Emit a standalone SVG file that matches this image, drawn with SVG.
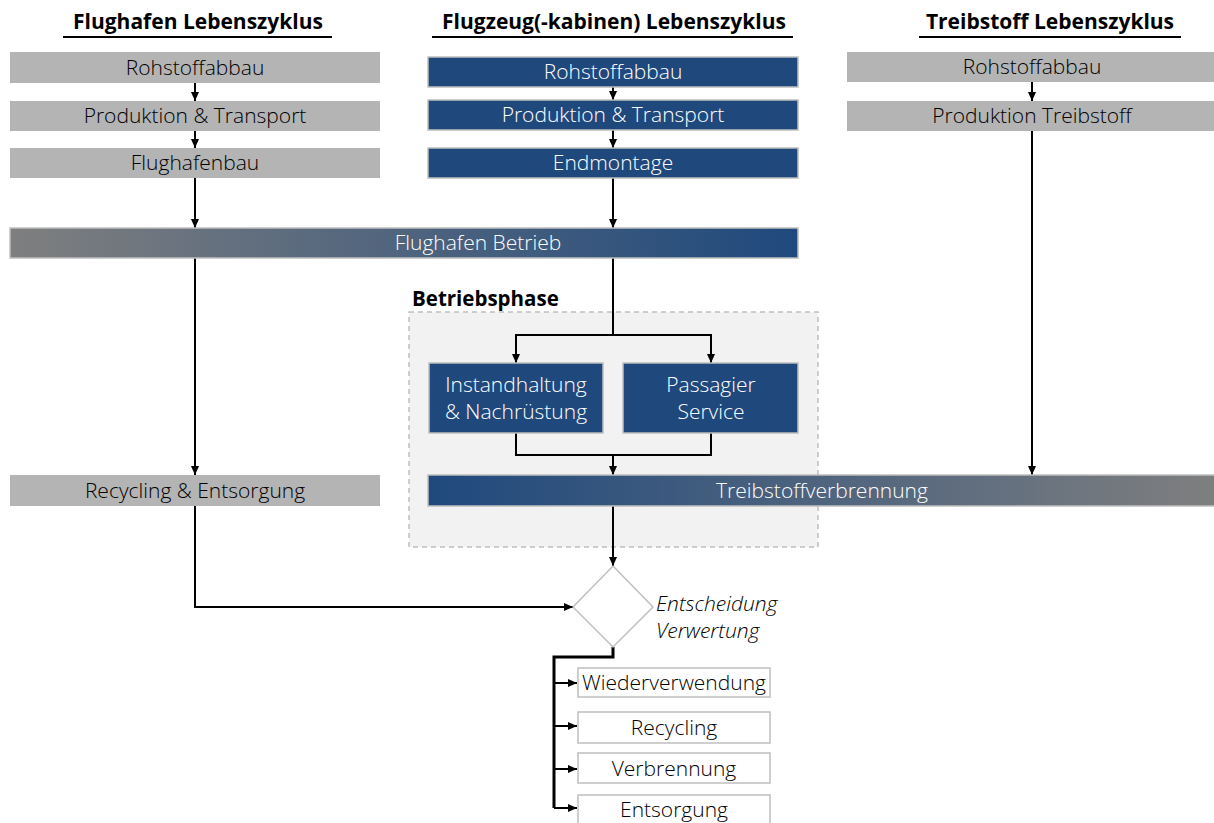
<svg xmlns="http://www.w3.org/2000/svg" width="1214" height="823" viewBox="0 0 1214 823">
<style>
text{font-family:"Open Sans","Noto Sans","Liberation Sans",sans-serif;}
.hdr{font-size:21px;font-weight:bold;fill:#000;text-anchor:middle;}
.ul{stroke:#000;stroke-width:2;}
.gray{fill:#b4b4b4;}
.blue{fill:#1f497d;stroke:#bfbfbf;stroke-width:1.5;}
.gt{font-size:21px;font-weight:300;fill:#000;text-anchor:middle;}
.wt{font-size:21px;font-weight:300;fill:#fff;text-anchor:middle;}
.con{fill:none;stroke:#000;stroke-width:2;}
.con2{fill:none;stroke:#000;stroke-width:3;}
.outb{fill:#fff;stroke:#bfbfbf;stroke-width:1.5;}
.bt{font-size:21px;font-weight:300;fill:#000;text-anchor:middle;}
.it{font-size:21px;font-style:italic;font-weight:300;fill:#000;}
</style>
<defs>
<marker id="ah" markerWidth="10" markerHeight="10" refX="9" refY="5" orient="auto" markerUnits="userSpaceOnUse">
<path d="M0,1 L9,5 L0,9 Z" fill="#000"/>
</marker>
<linearGradient id="g1" x1="0" y1="0" x2="1" y2="0">
<stop offset="0" stop-color="#7f7f7f"/>
<stop offset="1" stop-color="#1f497d"/>
</linearGradient>
<linearGradient id="g2" x1="0" y1="0" x2="1" y2="0">
<stop offset="0" stop-color="#1f497d"/>
<stop offset="1" stop-color="#7f7f7f"/>
</linearGradient>
</defs>

<g id="headers">
<text class="hdr" x="198" y="29">Flughafen Lebenszyklus</text>
<line class="ul" x1="63" y1="37" x2="332" y2="37"/>
<text class="hdr" x="614" y="29">Flugzeug(-kabinen) Lebenszyklus</text>
<line class="ul" x1="432" y1="37" x2="793" y2="37"/>
<text class="hdr" x="1050" y="29">Treibstoff Lebenszyklus</text>
<line class="ul" x1="919" y1="37" x2="1181" y2="37"/>
</g>

<g id="betriebsphase">
<rect x="409" y="312" width="409" height="235" fill="#f2f2f2" stroke="#bfbfbf" stroke-width="1.5" stroke-dasharray="5,4"/>
<text x="412" y="306" font-size="20.5" font-weight="bold" fill="#000">Betriebsphase</text>
</g>

<g id="connectors">
<line class="con" x1="195" y1="83" x2="195" y2="101" marker-end="url(#ah)"/>
<line class="con" x1="195" y1="131" x2="195" y2="148" marker-end="url(#ah)"/>
<line class="con" x1="195" y1="178" x2="195" y2="228" marker-end="url(#ah)"/>
<line class="con" x1="195" y1="258" x2="195" y2="475" marker-end="url(#ah)"/>
<polyline class="con" points="195,506 195,607 573,607" marker-end="url(#ah)"/>
<line class="con" x1="613" y1="87" x2="613" y2="100" marker-end="url(#ah)"/>
<line class="con" x1="613" y1="130" x2="613" y2="148" marker-end="url(#ah)"/>
<line class="con" x1="613" y1="178" x2="613" y2="228" marker-end="url(#ah)"/>
<line class="con" x1="613" y1="258" x2="613" y2="335"/>
<polyline class="con" points="516,363 516,335 711,335 711,363" fill="none"/>
<line class="con" x1="516" y1="340" x2="516" y2="363" marker-end="url(#ah)"/>
<line class="con" x1="711" y1="340" x2="711" y2="363" marker-end="url(#ah)"/>
<polyline class="con" points="516,433 516,455 711,455 711,433"/>
<line class="con" x1="613" y1="455" x2="613" y2="475" marker-end="url(#ah)"/>
<line class="con" x1="613" y1="506" x2="613" y2="566" marker-end="url(#ah)"/>
<line class="con" x1="1032" y1="82" x2="1032" y2="101" marker-end="url(#ah)"/>
<line class="con" x1="1032" y1="131" x2="1032" y2="475" marker-end="url(#ah)"/>
<polyline class="con2" points="613,647 613,657 554,657 554,808"/>
<line class="con" x1="554" y1="683" x2="577" y2="683" marker-end="url(#ah)"/>
<line class="con" x1="554" y1="726" x2="577" y2="726" marker-end="url(#ah)"/>
<line class="con" x1="554" y1="769" x2="577" y2="769" marker-end="url(#ah)"/>
<line class="con" x1="554" y1="808" x2="577" y2="808" marker-end="url(#ah)"/>
</g>

<g id="n_fh_roh"><rect class="gray" x="10" y="52" width="370" height="31"/><text class="gt" x="195" y="75">Rohstoffabbau</text></g>
<g id="n_fh_prod"><rect class="gray" x="10" y="101" width="370" height="30"/><text class="gt" x="195" y="123">Produktion &amp; Transport</text></g>
<g id="n_fh_bau"><rect class="gray" x="10" y="148" width="370" height="30"/><text class="gt" x="195" y="170">Flughafenbau</text></g>

<g id="n_fz_roh"><rect class="blue" x="428" y="57" width="370" height="30"/><text class="wt" x="613" y="79">Rohstoffabbau</text></g>
<g id="n_fz_prod"><rect class="blue" x="428" y="100" width="370" height="30"/><text class="wt" x="613" y="122">Produktion &amp; Transport</text></g>
<g id="n_fz_end"><rect class="blue" x="428" y="148" width="370" height="30"/><text class="wt" x="613" y="170">Endmontage</text></g>

<g id="n_tr_roh"><rect class="gray" x="847" y="52" width="370" height="30"/><text class="gt" x="1032" y="74">Rohstoffabbau</text></g>
<g id="n_tr_prod"><rect class="gray" x="847" y="101" width="370" height="30"/><text class="gt" x="1032" y="123">Produktion Treibstoff</text></g>

<g id="n_betrieb"><rect x="10" y="228" width="788" height="30" fill="url(#g1)" stroke="#bfbfbf" stroke-width="1.5"/><text class="wt" x="478" y="250">Flughafen Betrieb</text></g>

<g id="n_instand"><rect class="blue" x="429" y="363" width="174" height="70"/><text class="wt" x="516" y="392" font-size="22">Instandhaltung</text><text class="wt" x="516" y="419" font-size="22">&amp; Nachrüstung</text></g>
<g id="n_pass"><rect class="blue" x="623" y="363" width="175" height="70"/><text class="wt" x="711" y="392" font-size="22">Passagier</text><text class="wt" x="711" y="419" font-size="22">Service</text></g>

<g id="n_recyc"><rect class="gray" x="10" y="475" width="370" height="31"/><text class="gt" x="195" y="498">Recycling &amp; Entsorgung</text></g>
<g id="n_verbr"><rect x="428" y="475" width="790" height="31" fill="url(#g2)" stroke="#bfbfbf" stroke-width="1.5"/><text class="wt" x="822" y="498">Treibstoffverbrennung</text></g>

<g id="n_decision"><polygon points="613,566 653,607 613,647 573,607" fill="#fff" stroke="#bfbfbf" stroke-width="1.5"/><text class="it" x="656" y="611">Entscheidung</text><text class="it" x="656" y="638">Verwertung</text></g>

<g id="n_wieder"><rect class="outb" x="578" y="668" width="192" height="29"/><text class="bt" x="674" y="690">Wiederverwendung</text></g>
<g id="n_recycling"><rect class="outb" x="578" y="712" width="192" height="31"/><text class="bt" x="674" y="735">Recycling</text></g>
<g id="n_verbrennung"><rect class="outb" x="578" y="753" width="192" height="30"/><text class="bt" x="674" y="776">Verbrennung</text></g>
<g id="n_entsorgung"><rect class="outb" x="578" y="795" width="192" height="32"/><text class="bt" x="674" y="817">Entsorgung</text></g>
</svg>
